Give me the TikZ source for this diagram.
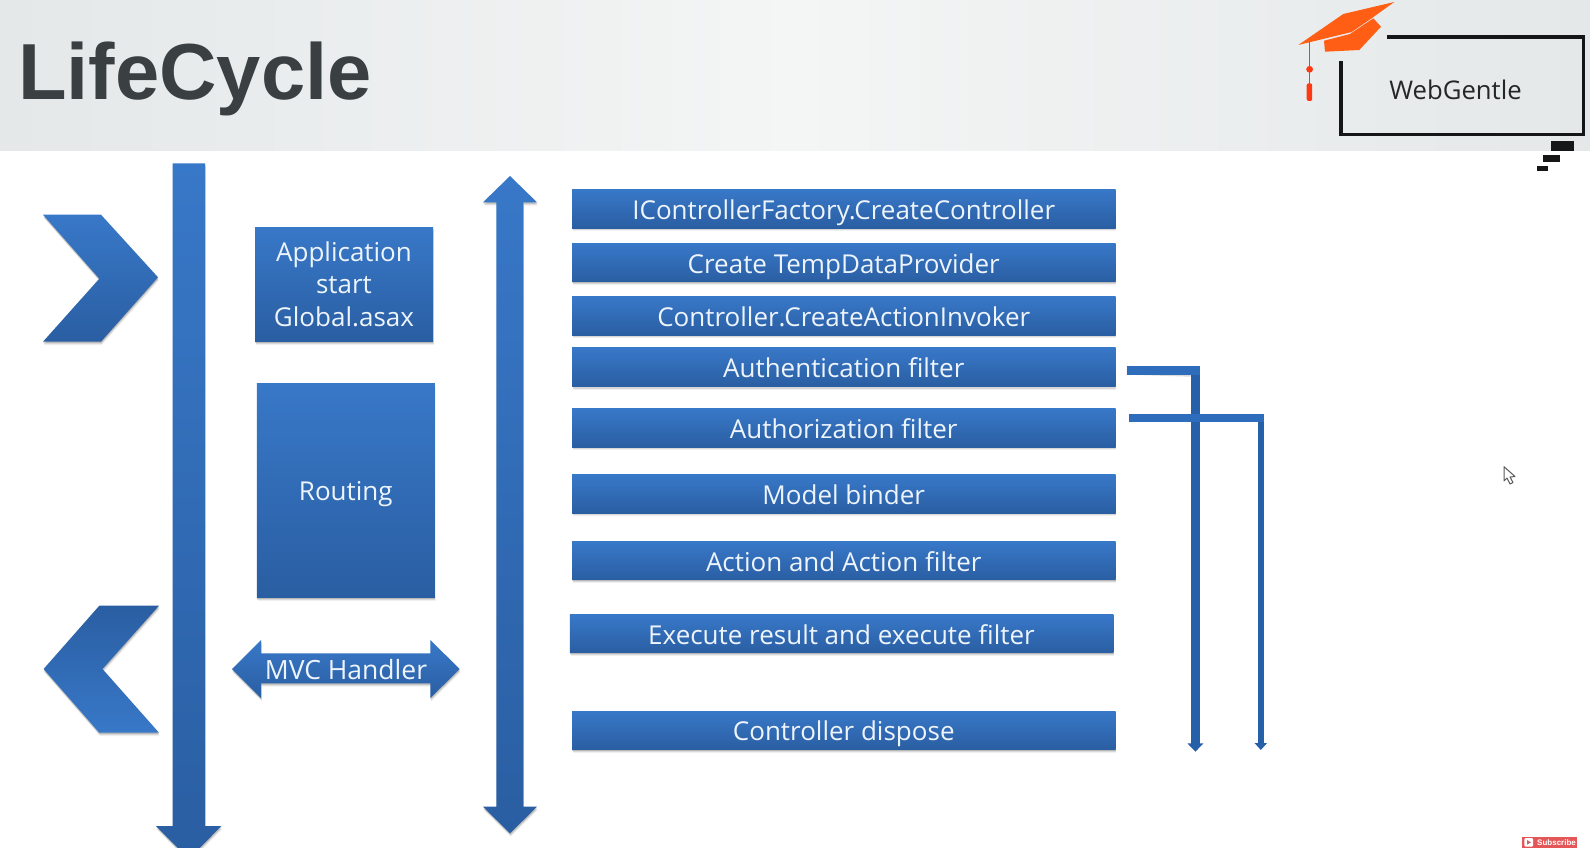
\documentclass[tikz,border=0pt]{standalone}
\usepackage{fontspec}
\setmainfont{Open Sans}
\newfontfamily\titlefont{Liberation Sans}
\usetikzlibrary{shadows,arrows.meta}
\definecolor{bluelight}{HTML}{3878C8}
\definecolor{bluedark}{HTML}{2A5EA2}
\definecolor{flow}{HTML}{2E6CBC}
\definecolor{flowdark}{HTML}{2560A8}
\definecolor{labeltext}{HTML}{EDF4FB}
\definecolor{capcolor}{HTML}{FF5E14}
\definecolor{tasselcolor}{HTML}{FF3A12}
\definecolor{inkblack}{HTML}{141618}
\definecolor{bandedge}{HTML}{E4E8E9}
\definecolor{bandmid}{HTML}{F4F5F5}
\definecolor{titleink}{HTML}{3A3F42}
\tikzset{
  softshadow/.style={
    general shadow={shadow xshift=0.8pt,shadow yshift=-3.4pt,fill=black,opacity=.06},
    general shadow={shadow xshift=0.5pt,shadow yshift=-2.4pt,fill=black,opacity=.10},
    general shadow={shadow xshift=0.3pt,shadow yshift=-1.2pt,fill=black,opacity=.14}},
  bluefill/.style={top color=bluelight,bottom color=bluedark,draw=none,softshadow},
  bluefillrev/.style={top color=bluedark,bottom color=bluelight,draw=none,softshadow},
  bluebox/.style={bluefill,rectangle,inner sep=0pt,text=labeltext,align=center,
    font=\fontsize{26}{32}\selectfont},
  stepbox/.style={bluebox,minimum width=543.5pt,minimum height=38.4pt,text height=22pt,text depth=1pt},
  plainlabel/.style={text=labeltext,inner sep=0pt,font=\fontsize{26.5}{32}\selectfont},
  flowbar/.style={draw=flow,line cap=butt},
  barshade/.style={draw=black,opacity=.14,line cap=butt},
}
\begin{document}
\begin{tikzpicture}[x=1pt,y=-1pt]
\useasboundingbox (0,0) rectangle (1590,848);
\fill[white] (0,0) rectangle (1590,848);
% header band
\path[left color=bandedge,right color=bandedge,middle color=bandmid] (0,0) rectangle (1590,151);
\node[anchor=west,inner sep=0pt,text=titleink,font=\titlefont\bfseries\fontsize{79.5}{90}\selectfont] (title) at (18,79) {LifeCycle};

% logo: cap
\fill[capcolor] (1298.3,45) -- (1343.3,14) -- (1394.3,2) -- (1372,18) -- (1351.7,32) -- cycle;
\fill[capcolor] (1324,40.7) -- (1350,34) -- (1373.3,18.3) -- (1381,26.7) -- (1359.3,50) -- (1325,51.7) -- cycle;
\draw[tasselcolor,line width=1.4pt] (1309.5,42) -- (1309.5,85);
\fill[tasselcolor] (1309.6,69.3) circle (3.4);
\fill[tasselcolor,rounded corners=2pt] (1306.7,83.3) rectangle (1312.2,101);
% logo: frame
\draw[inkblack,line width=3.6pt,line join=miter] (1387.3,37.3) -- (1583.3,37.3) -- (1583.3,134.7) -- (1340.7,134.7) -- (1340.7,60.7);
\node[text=black!85,inner sep=0pt,font=\fontsize{25.7}{32}\selectfont] (brand) at (1455.5,90) {WebGentle};
\fill[inkblack] (1550.7,141) rectangle (1574,151);
\fill[inkblack] (1542.7,155) rectangle (1560,162.3);
\fill[inkblack] (1537.3,166) rectangle (1548,170.7);

% main flow arrows
\path[bluefill] (172.5,163.3) -- (205,163.3) -- (205,826) -- (221.4,826) -- (188.7,859) -- (156,826) -- (172.5,826) -- cycle;
\path[bluefill] (510,176) -- (537,202.3) -- (523.3,202.3) -- (523.3,806.7) -- (537,806.7) -- (510,833.3) -- (483,806.7) -- (496.4,806.7) -- (496.4,202.3) -- (483,202.3) -- cycle;
% chevrons
\path[bluefill] (43,214.7) -- (101,214.7) -- (158,277.3) -- (101,341.7) -- (43,341.7) -- (99.3,278.7) -- cycle;
\path[bluefillrev] (159,605.7) -- (99.3,605.7) -- (43.6,669) -- (99.3,732.7) -- (159,732.7) -- (102.5,669) -- cycle;

% left column
\node[bluebox,minimum width=178pt,minimum height=114.3pt,font=\fontsize{26}{32.3}\selectfont] (app) at (344,284.2) {Application\\start\\Global.asax};
\node[bluebox,minimum width=178pt,minimum height=214.5pt,text height=22pt,text depth=1pt] (routing) at (345.8,490.3) {Routing};
\path[bluefill] (232,669) -- (261,640) -- (261,653.3) -- (430.4,653.3) -- (430.4,640) -- (459.6,669) -- (430.4,698) -- (430.4,683.3) -- (261,683.3) -- (261,698) -- cycle;
\node[plainlabel] (mvc) at (346,670) {MVC Handler};

% right column
\node[stepbox] (s1) at (843.75,208.8) {IControllerFactory.CreateController};
\node[stepbox] (s2) at (843.75,262.7) {Create TempDataProvider};
\node[stepbox] (s3) at (843.75,315.8) {Controller.CreateActionInvoker};
\node[stepbox] (s4) at (843.75,367) {Authentication filter};
\node[stepbox] (s5) at (843.75,427.8) {Authorization filter};
\node[stepbox] (s6) at (843.75,493.8) {Model binder};
\node[stepbox] (s7) at (843.75,560.7) {Action and Action filter};
\node[stepbox] (s8) at (841.5,633.7) {Execute result and execute filter};
\node[stepbox] (s9) at (843.75,730.2) {Controller dispose};

% filter connectors
\coordinate (a1) at (1126.7,370.4);
\coordinate (a2) at (1199.6,370.4);
\coordinate (a3) at (1195.4,366);
\coordinate (a4) at (1195.4,751.7);
\coordinate (b1) at (1128.7,418);
\coordinate (b2) at (1263.8,418);
\coordinate (b3) at (1260.8,414);
\coordinate (b4) at (1260.8,750);
\draw[flowdark,line width=8.4pt,-{Triangle[width=15.6pt,length=8.4pt]}] (a3) -- (a4);
\draw[flowdark,line width=6.2pt,-{Triangle[width=11.8pt,length=6.8pt]}] (b3) -- (b4);
\draw[barshade,line width=8.6pt,yshift=-2pt] (a1) -- (1191,370.4);
\draw[barshade,line width=8pt,yshift=-2pt] (b1) -- (b2);
\draw[flowbar,line width=8.6pt] (a1) -- (a2);
\draw[flowbar,line width=8pt] (b1) -- (b2);

% cursor
\draw[black!65,fill=white,line width=1pt,line join=round] (1504,466.7) -- (1504,481) -- (1507,478) -- (1510,484) -- (1513,482.5) -- (1510,477) -- (1515,476.5) -- cycle;

% subscribe badge
\fill[red!62!white!90!black] (1522,837) rectangle (1577,847.7);
\fill[white,rounded corners=1pt] (1524.3,838.2) rectangle (1533,846.5);
\fill[red!65!black!60!white] (1527,840) -- (1531,842.3) -- (1527,844.7) -- cycle;
\node[text=white,inner sep=0pt,anchor=west,font=\titlefont\bfseries\fontsize{8}{9}\selectfont] (sub) at (1537,842.4) {Subscribe};
\end{tikzpicture}
\end{document}
